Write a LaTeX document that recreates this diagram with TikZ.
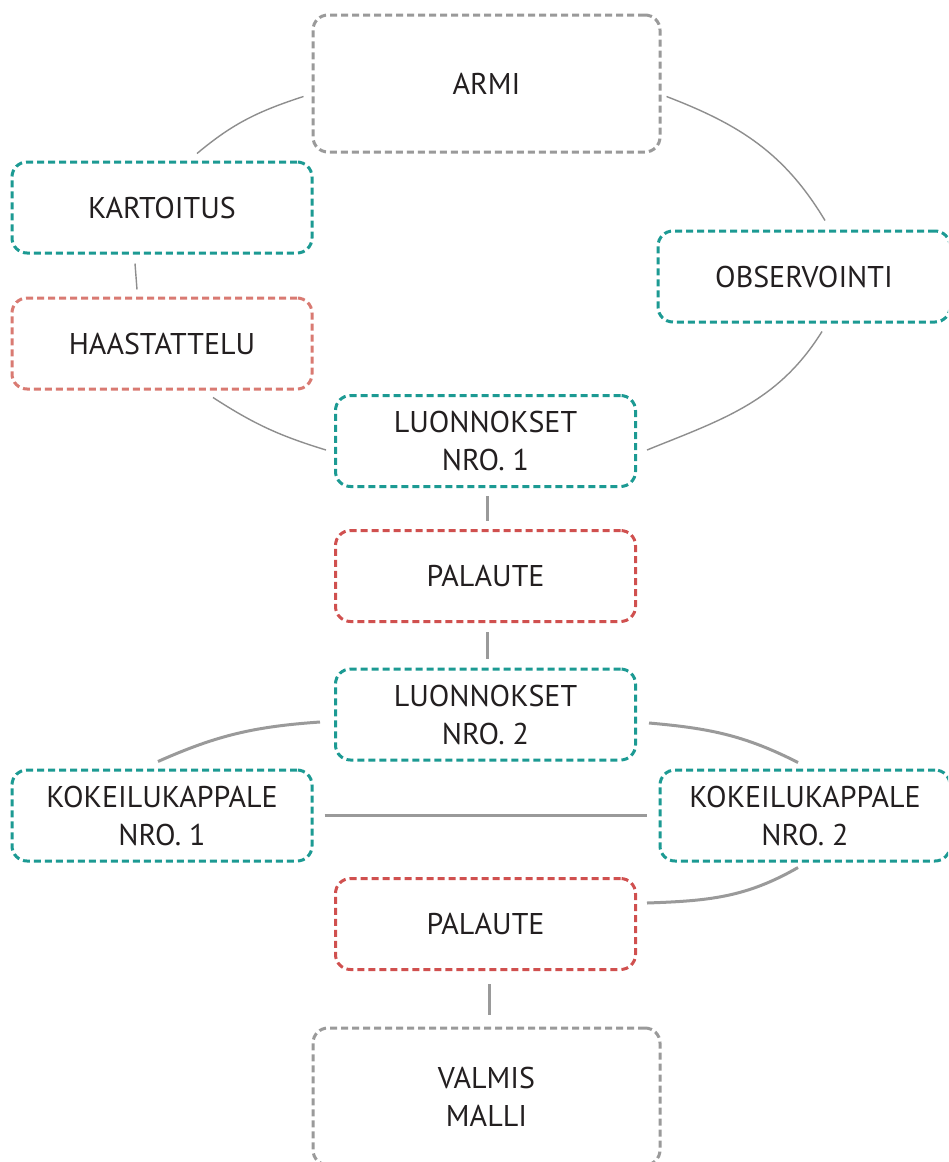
\documentclass[tikz,border=0pt]{standalone}
\usepackage{fontspec}
\setmainfont{PT Sans}
\definecolor{boxteal}{HTML}{1C9A93}
\definecolor{boxsalmon}{HTML}{D97A72}
\definecolor{boxred}{HTML}{D0504F}
\definecolor{boxgray}{HTML}{9A9A9A}
\definecolor{linkgray}{HTML}{8E8E8E}
\definecolor{inkdark}{HTML}{231F20}
\begin{document}
% y axis points down; out/in angles of the links are page angles (counter-clockwise)
\begin{tikzpicture}[x=1pt,y=-1pt,
  box/.style={draw, rounded corners=15pt, line width=3pt,
    dash pattern=on 7pt off 4pt, align=center, inner sep=0pt,
    font=\fontsize{30}{38}\selectfont, text=inkdark,
    minimum width=300pt, minimum height=91pt},
  tealbox/.style={box, draw=boxteal},
  salmonbox/.style={box, draw=boxsalmon},
  redbox/.style={box, draw=boxred},
  graybox/.style={box, draw=boxgray, minimum width=347pt, minimum height=137pt},
  thinlink/.style={draw=linkgray, line width=1.4pt},
  thicklink/.style={draw=boxgray, line width=3pt}]
  \useasboundingbox (0,0) rectangle (948,1162);
  \fill[white] (0,0) rectangle (948,1162);
  \clip (0,0) rectangle (948,1162);

  % boxes
  \node[graybox]   (armi) at (486.5,83.5)  {ARMI};
  \node[tealbox]   (kart) at (162,207.5)   {KARTOITUS};
  \node[tealbox, minimum width=292pt] (obs) at (804,276.5) {OBSERVOINTI};
  \node[salmonbox] (haas) at (162,343.5)   {HAASTATTELU};
  \node[tealbox]   (lu1)  at (485.5,441)   {LUONNOKSET\\NRO. 1};
  \node[redbox]    (pal1) at (485.5,576)   {PALAUTE};
  \node[tealbox]   (lu2)  at (485.5,714.5) {LUONNOKSET\\NRO. 2};
  \node[tealbox]   (kok1) at (162,815.5)   {KOKEILUKAPPALE\\NRO. 1};
  \node[tealbox, minimum width=290pt] (kok2) at (805,815.5) {KOKEILUKAPPALE\\NRO. 2};
  \node[redbox]    (pal2) at (485.5,924)   {PALAUTE};
  \node[graybox]   (valm) at (486.5,1096.5) {VALMIS\\MALLI};

  % upper loop: thin arcs
  \draw[thinlink] ([xshift=-8pt,yshift=-13pt]armi.west) to[out=198,in=40]
    ([xshift=35pt,yshift=7pt]kart.north);
  \draw[thinlink] ([xshift=5pt,yshift=-13pt]armi.east) to[out=-21,in=121]
    ([xshift=21pt,yshift=9pt]obs.north);
  \draw[thinlink] ([xshift=-27pt,yshift=-9pt]kart.south) --
    ([xshift=-25pt,yshift=7pt]haas.north);
  \draw[thinlink] ([xshift=51pt,yshift=-7pt]haas.south) to[out=-33,in=163]
    ([xshift=-8pt,yshift=-9pt]lu1.west);
  \draw[thinlink] ([xshift=18pt,yshift=-8pt]obs.south) to[out=238,in=22]
    ([xshift=10pt,yshift=-9pt]lu1.east);

  % lower part: thick links
  \draw[thicklink] ([xshift=1.5pt,yshift=-8pt]lu1.south) -- ([xshift=1.5pt,yshift=8pt]pal1.north);
  \draw[thicklink] ([xshift=1.5pt,yshift=-9pt]pal1.south) -- ([xshift=1.5pt,yshift=9pt]lu2.north);
  \draw[thicklink] ([xshift=-14pt,yshift=-7.5pt]lu2.west) to[out=184,in=24]
    ([xshift=-4pt,yshift=7pt]kok1.north);
  \draw[thicklink] ([xshift=12pt,yshift=-8.5pt]lu2.east) to[out=-5,in=153]
    ([xshift=-7pt,yshift=6pt]kok2.north);
  \draw[thicklink] ([xshift=11pt]kok1.east) -- ([xshift=-12pt]kok2.west);
  \draw[thicklink] ([xshift=-7pt,yshift=-5pt]kok2.south) to[out=210,in=2]
    ([xshift=10pt,yshift=21pt]pal2.east);
  \draw[thicklink] ([xshift=4pt,yshift=-13pt]pal2.south) -- ([xshift=3pt,yshift=12pt]valm.north);
\end{tikzpicture}
\end{document}
